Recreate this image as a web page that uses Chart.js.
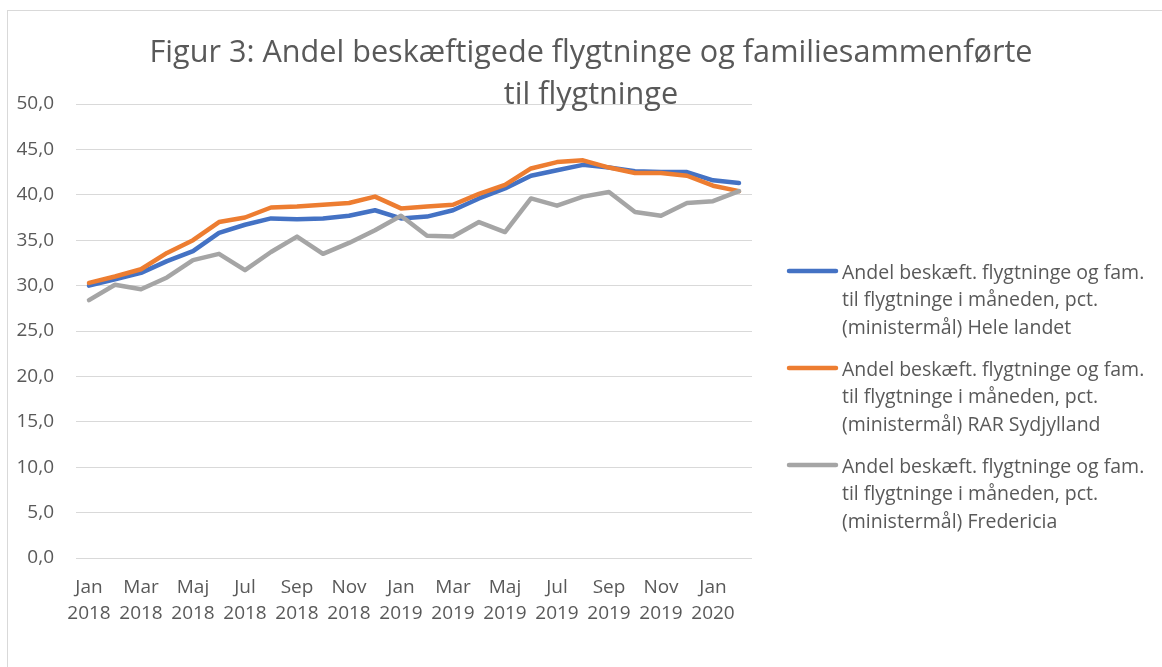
<!DOCTYPE html>
<html>
<head>
<meta charset="utf-8">
<script src="https://cdn.jsdelivr.net/npm/chart.js@4"></script>
<style>
  body { margin: 0; background: #fff; }
  #wrap { width: 1162px; height: 667px; }
</style>
</head>
<body>
<div id="wrap"><canvas id="linechart" width="1162" height="667"></canvas></div>
<script>
var months = ["Jan", "Feb", "Mar", "Apr", "Maj", "Jun", "Jul", "Aug", "Sep", "Okt", "Nov", "Dec",
              "Jan", "Feb", "Mar", "Apr", "Maj", "Jun", "Jul", "Aug", "Sep", "Okt", "Nov", "Dec",
              "Jan", "Feb"];
var years = ["2018", "2018", "2018", "2018", "2018", "2018", "2018", "2018", "2018", "2018", "2018", "2018",
             "2019", "2019", "2019", "2019", "2019", "2019", "2019", "2019", "2019", "2019", "2019", "2019",
             "2020", "2020"];

var heleLandet = [30.0, 30.7, 31.4, 32.7, 33.8, 35.8, 36.7, 37.4, 37.3, 37.4, 37.7, 38.3,
                  37.4, 37.6, 38.3, 39.6, 40.7, 42.1, 42.7, 43.3, 43.0, 42.6, 42.5, 42.5, 41.6, 41.3];
var rarSydjylland = [30.3, 31.0, 31.8, 33.6, 35.0, 37.0, 37.5, 38.6, 38.7, 38.9, 39.1, 39.8,
                     38.5, 38.7, 38.9, 40.1, 41.1, 42.9, 43.6, 43.8, 43.0, 42.4, 42.4, 42.1, 41.0, 40.4];
var fredericia = [28.4, 30.1, 29.6, 30.9, 32.8, 33.5, 31.7, 33.7, 35.4, 33.5, 34.7, 36.1,
                  37.7, 35.5, 35.4, 37.0, 35.9, 39.6, 38.8, 39.8, 40.3, 38.1, 37.7, 39.1, 39.3, 40.4];

var seriesNames = [
  ["Andel beskæft. flygtninge og fam.", "til flygtninge i måneden, pct.", "(ministermål) Hele landet"],
  ["Andel beskæft. flygtninge og fam.", "til flygtninge i måneden, pct.", "(ministermål) RAR Sydjylland"],
  ["Andel beskæft. flygtninge og fam.", "til flygtninge i måneden, pct.", "(ministermål) Fredericia"]
];
var titleLines = ["Figur 3: Andel beskæftigede flygtninge og familiesammenførte", "til flygtninge"];

var textColor = "#595959";
var fontName = "'Open Sans', sans-serif";

var labels = months.map(function(m, i) { return [m, years[i]]; });

// border, title and legend drawn by hand (Excel style)
var excelDecor = {
  id: "excelDecor",
  beforeDraw: function(chart) {
    var ctx = chart.ctx;
    ctx.save();
    ctx.strokeStyle = "#d9d9d9";
    ctx.lineWidth = 1;
    ctx.strokeRect(7.5, 10.5, 1200, 700);
    ctx.restore();
  },
  afterDraw: function(chart) {
    var ctx = chart.ctx;
    ctx.save();
    ctx.fillStyle = textColor;
    ctx.textAlign = "center";
    ctx.textBaseline = "alphabetic";
    ctx.font = "31px " + fontName;
    var w = ctx.measureText(titleLines[0]).width;
    var sx = 883 / w;
    ctx.save();
    ctx.translate(591, 0);
    ctx.scale(sx, 1);
    ctx.fillText(titleLines[0], 0, 62);
    ctx.fillText(titleLines[1], 0, 104);
    ctx.restore();

    // legend
    ctx.textAlign = "left";
    ctx.textBaseline = "middle";
    ctx.font = "19.5px " + fontName;
    chart.data.datasets.forEach(function(ds, i) {
      var y0 = 271 + i * 97;
      ctx.strokeStyle = ds.borderColor;
      ctx.lineWidth = 4.5;
      ctx.lineCap = "round";
      ctx.beginPath();
      ctx.moveTo(789, y0);
      ctx.lineTo(836, y0);
      ctx.stroke();
      seriesNames[i].forEach(function(line, j) {
        ctx.fillText(line, 842, y0 + 2 + j * 27.5);
      });
    });
    ctx.restore();
  }
};

function makeSet(name, data, color, order) {
  return {
    label: name.join(" "),
    data: data,
    borderColor: color,
    backgroundColor: color,
    borderWidth: 4.5,
    borderCapStyle: "round",
    borderJoinStyle: "round",
    pointRadius: 0,
    tension: 0,
    fill: false,
    order: order
  };
}

var ctx = document.getElementById("linechart").getContext("2d");
var myLineChart = new Chart(ctx, {
  type: "line",
  data: {
    labels: labels,
    datasets: [
      makeSet(seriesNames[0], heleLandet, "#4472C4", 3),
      makeSet(seriesNames[1], rarSydjylland, "#ED7D31", 2),
      makeSet(seriesNames[2], fredericia, "#A5A5A5", 1)
    ]
  },
  options: {
    responsive: false,
    animation: false,
    devicePixelRatio: 1,
    layout: { padding: { left: 0, right: 410, top: 104, bottom: 0 } },
    plugins: {
      legend: { display: false },
      title: { display: false },
      tooltip: { enabled: false }
    },
    scales: {
      x: {
        offset: true,
        grid: { display: false, drawTicks: false },
        border: { display: false },
        ticks: {
          autoSkip: false,
          maxRotation: 0,
          padding: 17,
          color: textColor,
          font: { family: fontName, size: 19, lineHeight: 1.37 },
          callback: function(v, i) { return i % 2 === 0 ? labels[i] : null; }
        },
        afterFit: function(scale) { scale.height = 109; }
      },
      y: {
        min: 0,
        max: 50,
        grid: { color: "#d9d9d9", lineWidth: 1, drawTicks: false },
        border: { display: false },
        ticks: {
          stepSize: 5,
          padding: 22,
          color: textColor,
          font: { family: fontName, size: 19 },
          callback: function(v) { return v.toFixed(1).replace(".", ","); }
        },
        afterFit: function(scale) { scale.width = 76; }
      }
    }
  },
  plugins: [excelDecor]
});
</script>
</body>
</html>
